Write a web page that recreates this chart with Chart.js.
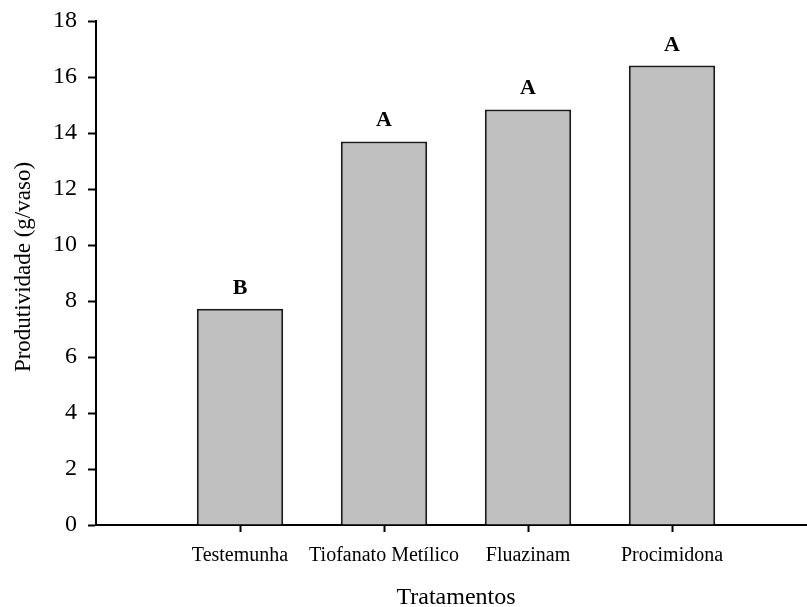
<!DOCTYPE html>
<html>
<head>
<meta charset="utf-8">
<script src="https://cdn.jsdelivr.net/npm/chart.js@4/dist/chart.umd.min.js"></script>
<style>
  html, body { margin: 0; padding: 0; overflow: hidden; background: #fff; width: 807px; height: 607px; }
  #wrap { width: 830px; height: 607px; }
</style>
</head>
<body>
<div id="wrap"><canvas id="c" width="830" height="607"></canvas></div>
<script>
const categories = ["Testemunha", "Tiofanato Metílico", "Fluazinam", "Procimidona"];
const productivity = [7.72, 13.70, 14.84, 16.41];
const groupLetters = ["B", "A", "A", "A"];
const yTicks = [0, 2, 4, 6, 8, 10, 12, 14, 16, 18];
const yTitle = "Produtividade (g/vaso)";
const xTitle = "Tratamentos";

const SERIF = "'Liberation Serif', 'Times New Roman', serif";

const labels = [""].concat(categories, [""]);
const values = [null].concat(productivity, [null]);
const letters = [null].concat(groupLetters, [null]);

const letterPlugin = {
  id: 'letters',
  afterDatasetsDraw(chart) {
    const ctx = chart.ctx;
    const meta = chart.getDatasetMeta(0);
    ctx.save();
    ctx.fillStyle = '#000';
    ctx.font = "bold 22px " + SERIF;
    ctx.textAlign = 'center';
    ctx.textBaseline = 'alphabetic';
    meta.data.forEach((bar, i) => {
      if (letters[i] == null || values[i] == null) return;
      ctx.fillText(letters[i], bar.x, bar.y - 15);
    });
    ctx.restore();
  }
};

const yTitlePlugin = {
  id: 'ytitle',
  afterDraw(chart) {
    const ctx = chart.ctx;
    const area = chart.chartArea;
    ctx.save();
    ctx.fillStyle = '#000';
    ctx.font = "23px " + SERIF;
    ctx.textAlign = 'center';
    ctx.textBaseline = 'middle';
    ctx.translate(24, (area.top + area.bottom) / 2 - 6);
    ctx.rotate(-Math.PI / 2);
    ctx.fillText(yTitle, 0, 0);
    ctx.restore();
  }
};

new Chart(document.getElementById('c'), {
  type: 'bar',
  data: {
    labels: labels,
    datasets: [{
      data: values,
      backgroundColor: '#c0c0c0',
      borderColor: '#1a1a1a',
      borderWidth: 2,
      barPercentage: 0.6,
      categoryPercentage: 1.0
    }]
  },
  options: {
    responsive: false,
    animation: false,
    devicePixelRatio: 1,
    layout: { padding: { left: 0, top: 21, right: 14, bottom: 0 } },
    plugins: { legend: { display: false }, tooltip: { enabled: false } },
    scales: {
      x: {
        type: 'category',
        offset: false,
        grid: {
          offset: false,
          drawOnChartArea: false,
          drawTicks: true,
          tickLength: 7,
          tickWidth: 2,
          tickColor: (c) => (c.index === 0 || c.index === labels.length - 1) ? 'rgba(0,0,0,0)' : '#000'
        },
        border: { display: true, color: '#000', width: 2 },
        ticks: {
          color: '#000',
          font: { family: SERIF, size: 20 },
          padding: 12,
          maxRotation: 0,
          autoSkip: false
        },
        title: {
          display: true,
          text: xTitle,
          color: '#000',
          font: { family: SERIF, size: 24, lineHeight: 0.8 },
          padding: { top: 0, bottom: 0 }
        },
        afterFit(scale) { scale.height = 82; }
      },
      y: {
        min: 0,
        max: 18,
        afterBuildTicks(scale) { scale.ticks = yTicks.map(v => ({ value: v })); },
        grid: {
          drawOnChartArea: false,
          drawTicks: true,
          tickLength: 8,
          tickWidth: 2,
          tickColor: '#000'
        },
        border: { display: true, color: '#000', width: 2 },
        ticks: {
          color: '#000',
          font: { family: SERIF, size: 24, lineHeight: 0.8 },
          padding: 11
        },
        title: { display: false },
        afterFit(scale) { scale.width = 96; }
      }
    }
  },
  plugins: [letterPlugin, yTitlePlugin]
});
</script>
</body>
</html>
